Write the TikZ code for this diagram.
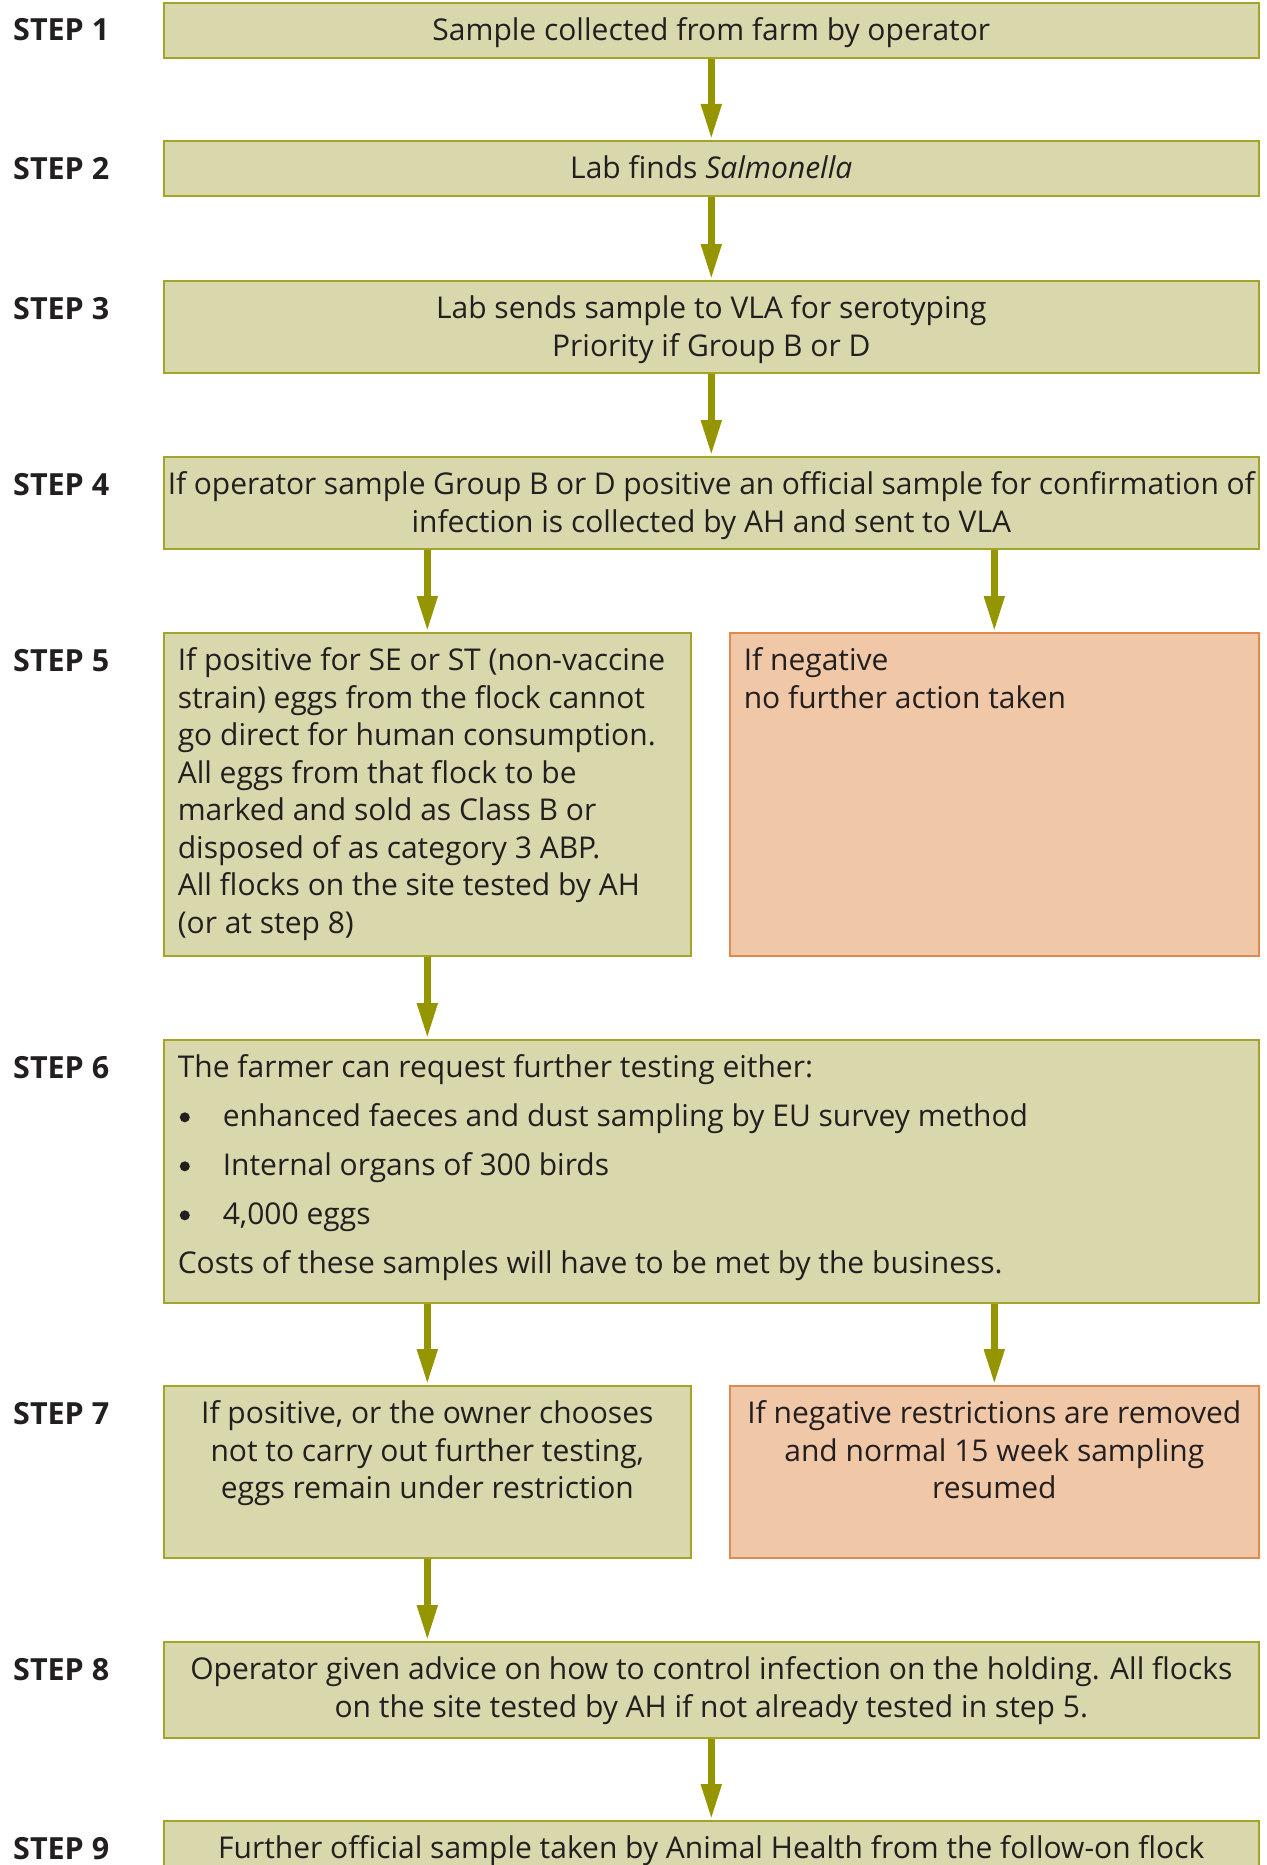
\documentclass[tikz,border=0pt]{standalone}
\usepackage{fontspec}
\setmainfont{Open Sans}
\usetikzlibrary{arrows.meta}
\definecolor{boxfill}{HTML}{D9D8AC}
\definecolor{boxline}{HTML}{A5A42A}
\definecolor{arrowcol}{HTML}{959500}
\definecolor{negfill}{HTML}{F0C8A8}
\definecolor{negline}{HTML}{E08A4E}
\definecolor{txt}{HTML}{231F20}
\newcommand\bxc[4]{\parbox[c][#1][t]{#2}{#3\rule{0pt}{38pt}#4}}
\newcommand\bul{\hspace*{2pt}\makebox[43pt][l]{\tikz[baseline={(0pt,-9.5pt)}]\fill[txt] (5pt,0pt) circle[radius=5pt];}}
\tikzset{
  gbox/.style={draw=boxline, fill=boxfill, line width=1.6pt, inner xsep=14pt, inner ysep=0pt, anchor=north west, text=txt},
  nbox/.style={gbox, draw=negline, fill=negfill},
  steplabel/.style={anchor=base west, inner sep=0pt, text=txt, font=\fontsize{30.5}{36}\selectfont\bfseries},
  flow/.style={draw=arrowcol, line width=7.5pt, -{Triangle[length=36pt, width=19pt]}, arrowcol},
}
\begin{document}
\begin{tikzpicture}[x=1pt, y=-1pt, every node/.append style={font=\fontsize{30}{37.5}\selectfont}]
\useasboundingbox (0,0) rectangle (1266,1865);
\clip (0,0) rectangle (1266,1865);
% boxes
\node[gbox] (s1) at (163,2) {\bxc{55pt}{1067pt}{\centering}{Sample collected from farm by operator}};
\node[gbox] (s2) at (163,140) {\bxc{55pt}{1067pt}{\centering}{Lab finds \textit{Salmonella}}};
\node[gbox] (s3) at (163,280) {\bxc{92pt}{1067pt}{\centering}{Lab sends sample to VLA for serotyping\\Priority if Group B or D}};
\node[gbox, inner xsep=4pt] (s4) at (163,456) {\bxc{92pt}{1087pt}{\centering}{If operator sample Group B or D positive an official sample for confirmation of\\infection is collected by AH and sent to VLA}};
\node[gbox] (s5l) at (163,632) {\bxc{323pt}{499pt}{\raggedright}{If positive for SE or ST (non-vaccine\\strain) eggs from the flock cannot\\go direct for human consumption.\\All eggs from that flock to be\\marked and sold as Class B or\\disposed of as category 3 ABP.\\All flocks on the site tested by AH\\(or at step 8)}};
\node[nbox] (s5r) at (729,632) {\bxc{323pt}{501pt}{\raggedright}{If negative\\no further action taken}};
\node[gbox] (s6) at (163,1039) {\bxc{263pt}{1067pt}{\raggedright\setlength\baselineskip{49pt}}{The farmer can request further testing either:\\
\bul enhanced faeces and dust sampling by EU survey method\\
\bul Internal organs of 300 birds\\
\bul 4,000 eggs\\
Costs of these samples will have to be met by the business.}};
\node[gbox] (s7l) at (163,1385) {\bxc{172pt}{499pt}{\centering}{If positive, or the owner chooses\\not to carry out further testing,\\eggs remain under restriction}};
\node[nbox] (s7r) at (729,1385) {\bxc{172pt}{501pt}{\centering}{If negative restrictions are removed\\and normal 15 week sampling\\resumed}};
\node[gbox] (s8) at (163,1641) {\bxc{96pt}{1067pt}{\centering}{Operator given advice on how to control infection on the holding. All flocks\\on the site tested by AH if not already tested in step 5.}};
\node[gbox] (s9) at (163,1820) {\bxc{90pt}{1067pt}{\centering}{Further official sample taken by Animal Health from the follow-on flock}};
% step labels
\node[steplabel] (l1) at (13,41) {STEP 1};
\node[steplabel] (l2) at (13,179) {STEP 2};
\node[steplabel] (l3) at (13,319) {STEP 3};
\node[steplabel] (l4) at (13,495) {STEP 4};
\node[steplabel] (l5) at (13,671) {STEP 5};
\node[steplabel] (l6) at (13,1078) {STEP 6};
\node[steplabel] (l7) at (13,1424) {STEP 7};
\node[steplabel] (l8) at (13,1680) {STEP 8};
\node[steplabel] (l9) at (13,1859) {STEP 9};
% connectors
\draw[flow] (s1.south) -- (s2.north);
\draw[flow] (s2.south) -- (s3.north);
\draw[flow] (s3.south) -- (s4.north);
\draw[flow] (s5l.north |- s4.south) -- (s5l.north);
\draw[flow] (s5r.north |- s4.south) -- (s5r.north);
\draw[flow] (s5l.south) -- (s5l.south |- s6.north);
\draw[flow] (s7l.north |- s6.south) -- (s7l.north);
\draw[flow] (s7r.north |- s6.south) -- (s7r.north);
\draw[flow] (s7l.south) -- (s7l.south |- s8.north);
\draw[flow] (s8.south) -- (s9.north);
\end{tikzpicture}
\end{document}
